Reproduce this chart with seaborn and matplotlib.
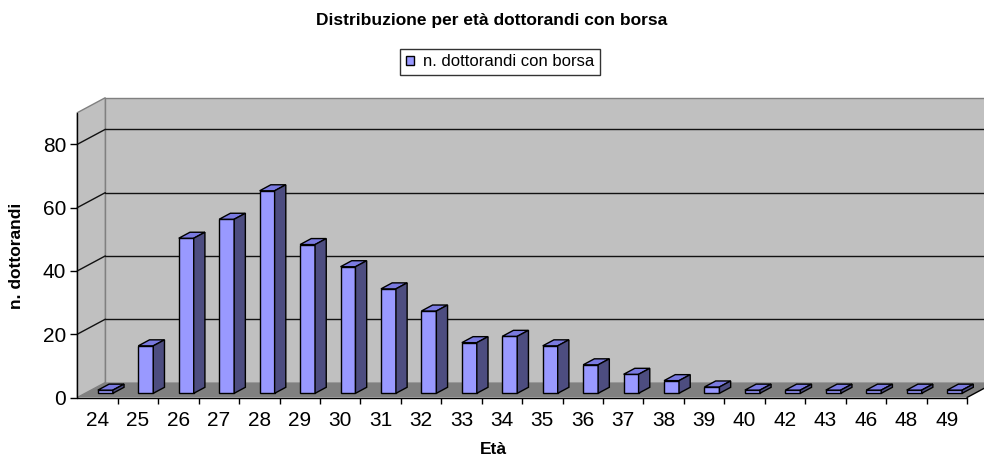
import matplotlib
matplotlib.use("Agg")
import matplotlib.pyplot as plt
import seaborn as sns
import pandas as pd
from matplotlib.patches import Polygon, Rectangle

# ---- data ----
ages = ["24", "25", "26", "27", "28", "29", "30", "31", "32", "33", "34",
        "35", "36", "37", "38", "39", "40", "42", "43", "46", "48", "49"]
counts = [1, 15, 49, 55, 64, 47, 40, 33, 26, 16, 18,
          15, 9, 6, 4, 2, 1, 1, 1, 1, 1, 1]
y_ticks = [0, 20, 40, 60, 80]
title = "Distribuzione per età dottorandi con borsa"
series_name = "n. dottorandi con borsa"
x_label = "Età"
y_label = "n. dottorandi"

sns.set_theme(style="white")
plt.rcParams['font.family'] = ['Liberation Sans', 'DejaVu Sans']
plt.rcParams['text.color'] = 'black'
plt.rcParams['axes.labelcolor'] = 'black'
plt.rcParams['xtick.color'] = 'black'
plt.rcParams['ytick.color'] = 'black'

W, H = 984, 459
fig = plt.figure(figsize=(W / 100, H / 100), dpi=100)
fig.patch.set_facecolor("white")
ax_l, ax_b, ax_w, ax_h = 77.3 / W, (H - 397.5) / H, (967 - 77.3) / W, (397.5 - 112.7) / H
ax = fig.add_axes([ax_l, ax_b, ax_w, ax_h])

df = pd.DataFrame({"age": ages, "n": counts})
sns.barplot(data=df, x="age", y="n", ax=ax, color="#9999FF", width=0.37,
            saturation=1, edgecolor="black", linewidth=1.0, zorder=5)

n = len(ages)
ax.set_xlim(-0.5, n - 0.5)
ymax = 90
ax.set_ylim(0, ymax)
ax.set_facecolor("none")
for s in ax.spines.values():
    s.set_visible(False)

# depth offset in data units (from pixel offset 28 right, 15 up)
px_per_x = ax_w * W / n
px_per_y = ax_h * H / ymax
DX = 28 / px_per_x
DY = 15 / px_per_y

wall = "#C0C0C0"
floor = "#808080"
edge = "#808080"
x0, x1 = -0.5, n - 0.5

# back wall
ax.add_patch(Rectangle((x0 + DX, DY), x1 - x0, ymax, fc=wall, ec=edge, lw=1, zorder=0, clip_on=False))
# side wall
ax.add_patch(Polygon([(x0, 0), (x0 + DX, DY), (x0 + DX, ymax + DY), (x0, ymax)],
                     closed=True, fc=wall, ec=edge, lw=1, zorder=0, clip_on=False))
# floor
ax.add_patch(Polygon([(x0, 0), (x1, 0), (x1 + DX, DY), (x0 + DX, DY)],
                     closed=True, fc=floor, ec="none", lw=0, zorder=1, clip_on=False))
# gridlines
for t in y_ticks[1:]:
    ax.plot([x0 + DX, x1 + DX], [t + DY, t + DY], color="#111111", lw=1, zorder=2, clip_on=False)
    ax.plot([x0, x0 + DX], [t, t + DY], color="#111111", lw=1, zorder=2, clip_on=False)
# front axis lines
ax.plot([x0, x0], [0, ymax], color="black", lw=1, zorder=3, clip_on=False)
ax.plot([x0, x1], [0, 0], color="black", lw=1, zorder=3, clip_on=False)
ax.plot([x1, x1 + DX], [0, DY], color="black", lw=1, zorder=3, clip_on=False)

# 3D bars: move front faces to depth f0, add top and side faces
f0, f1 = 0.28, 0.68
bdx, bdy = (f1 - f0) * DX, (f1 - f0) * DY
top_c = "#7A7AE0"
side_c = "#4D4D80"
for p in ax.patches[:]:
    if not isinstance(p, Rectangle) or p.get_facecolor()[2] < 0.99 or p.get_width() > 1:
        continue
    px = p.get_x() + f0 * DX
    w = p.get_width()
    h = p.get_height()
    yb = f0 * DY
    p.set_x(px)
    p.set_y(yb)
    p.set_clip_on(False)
    yt = yb + h
    ax.add_patch(Polygon([(px, yt), (px + w, yt), (px + w + bdx, yt + bdy), (px + bdx, yt + bdy)],
                         closed=True, fc=top_c, ec="black", lw=1.0, zorder=5, clip_on=False))
    ax.add_patch(Polygon([(px + w, yb), (px + w + bdx, yb + bdy), (px + w + bdx, yt + bdy), (px + w, yt)],
                         closed=True, fc=side_c, ec="black", lw=1.0, zorder=5, clip_on=False))

# ticks
ax.set_xticks(range(n))
ax.set_xticklabels(ages)
ax.set_xticks([i + 0.5 for i in range(n)], minor=True)
ax.set_yticks(y_ticks)
ax.set_yticklabels([str(t) for t in y_ticks])
ax.tick_params(axis="x", which="major", length=0, pad=10, labelsize=15, colors="black")
ax.tick_params(axis="x", which="minor", length=4.5, width=1, color="black", direction="out", bottom=True)
ax.tick_params(axis="y", which="major", length=5, width=1, color="black", direction="out",
               left=True, pad=3, labelsize=15, colors="black")
ax.set_xlabel("")
ax.set_ylabel("")

# texts
fig.text(492 / W, 1 - 20 / H, title, ha="center", va="center", fontsize=12.5,
         fontweight="bold", color="black")
fig.text(493 / W, 1 - 450 / H, x_label, ha="center", va="center", fontsize=12.5,
         fontweight="bold", color="black")
fig.text(17 / W, 1 - 256 / H, y_label, ha="center", va="center", rotation=90, fontsize=12.5,
         fontweight="bold", color="black")

handle = Rectangle((0, 0), 1, 1, fc="#9999FF", ec="black", lw=1)
leg = fig.legend([handle], [series_name], loc="center", bbox_to_anchor=(500 / W, 1 - 62 / H),
                 fontsize=12, frameon=True, fancybox=False, handlelength=0.45, handleheight=0.45,
                 handletextpad=0.55, borderpad=0.35, borderaxespad=0, labelcolor="black")
leg.get_frame().set_edgecolor("black")
leg.get_frame().set_linewidth(1)

fig.savefig("out.png", dpi=100)
